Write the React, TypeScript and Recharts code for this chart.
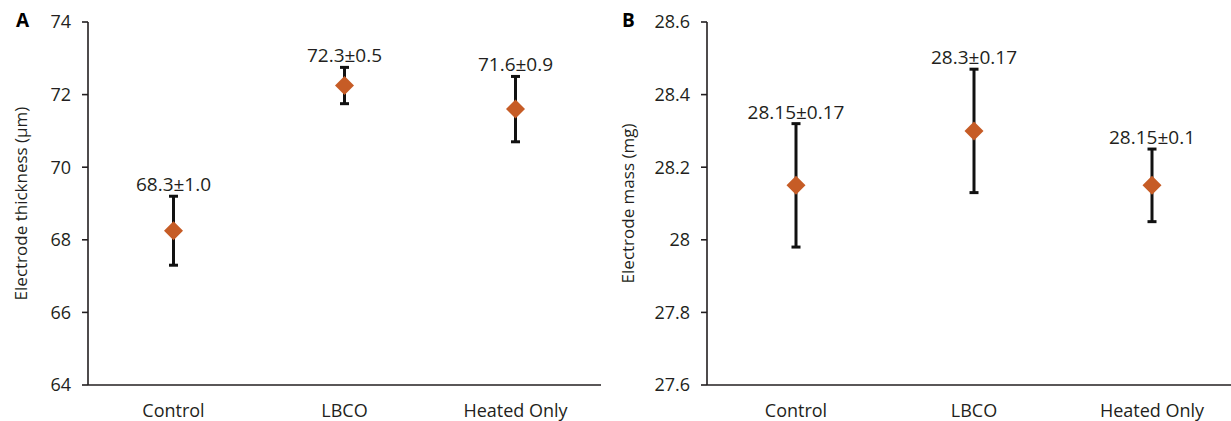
import React from 'react';
import { ComposedChart, Line, XAxis, YAxis, ErrorBar, LabelList } from 'recharts';

const categories = ['Control', 'LBCO', 'Heated Only'];

const thicknessMean = [68.25, 72.25, 71.6];
const thicknessErr = [0.95, 0.5, 0.9];
const thicknessLabels = ['68.3±1.0', '72.3±0.5', '71.6±0.9'];
const thicknessTicks = [64, 66, 68, 70, 72, 74];

const massMean = [28.15, 28.3, 28.15];
const massErr = [0.17, 0.17, 0.1];
const massLabels = ['28.15±0.17', '28.3±0.17', '28.15±0.1'];
const massTicks = [27.6, 27.8, 28, 28.2, 28.4, 28.6];

const ORANGE = '#C65C26';
const INK = '#231F20';
const FONT = '"Open Sans", "Noto Sans", sans-serif';

const buildRows = (means: number[], errs: number[], labels: string[]) =>
  categories.map((c, i) => ({
    cat: c,
    mean: means[i],
    err: errs[i],
    top: means[i] + errs[i],
    label: labels[i],
  }));

const Diamond = (props: any) => {
  const { cx, cy } = props;
  if (cx == null || cy == null) return null;
  const r = 9.5;
  return (
    <polygon
      points={`${cx},${cy - r} ${cx + r},${cy} ${cx},${cy + r} ${cx - r},${cy}`}
      fill={ORANGE}
    />
  );
};

type PanelProps = {
  rows: any[];
  ticks: number[];
  yTitle: string;
  width: number;
  yAxisWidth: number;
  rightMargin: number;
  titleX: number;
};

const Panel = ({ rows, ticks, yTitle, width, yAxisWidth, rightMargin, titleX }: PanelProps) => {
  const domain = [ticks[0], ticks[ticks.length - 1]];
  return (
    <ComposedChart
      width={width}
      height={421}
      data={rows}
      margin={{ top: 22, right: rightMargin, bottom: 0, left: 0 }}
    >
      <XAxis
        dataKey="cat"
        xAxisId="main"
        scale="band"
        height={36}
        tickLine={false}
        tickMargin={13}
        axisLine={{ stroke: INK, strokeWidth: 1.6 }}
        tick={{ fill: INK, fontSize: 18, fontFamily: FONT }}
        interval={0}
      />
      <XAxis
        dataKey="cat"
        xAxisId="top"
        scale="band"
        orientation="top"
        height={0}
        tick={false}
        tickLine={false}
        axisLine={{ stroke: INK, strokeWidth: 1.6 }}
      />
      <YAxis
        yAxisId="main"
        type="number"
        domain={domain}
        ticks={ticks}
        width={yAxisWidth}
        tickSize={6}
        tickMargin={11}
        tickLine={{ stroke: INK, strokeWidth: 1.6 }}
        axisLine={{ stroke: INK, strokeWidth: 1.6 }}
        tick={{ fill: INK, fontSize: 18, fontFamily: FONT }}
        label={{
          content: (p: any) => {
            const vb = p.viewBox || {};
            const x = (vb.x ?? 0) + titleX;
            const y = (vb.y ?? 0) + (vb.height ?? 0) / 2;
            return (
              <text
                x={x}
                y={y}
                transform={`rotate(-90 ${x} ${y})`}
                textAnchor="middle"
                dominantBaseline="central"
                fill={INK}
                fontSize={17}
                fontFamily={FONT}
              >
                {yTitle}
              </text>
            );
          },
        }}
      />
      <YAxis
        yAxisId="right"
        orientation="right"
        type="number"
        domain={domain}
        width={0}
        tick={false}
        tickLine={false}
        axisLine={{ stroke: INK, strokeWidth: 1.6 }}
      />
      <Line
        xAxisId="main"
        yAxisId="main"
        dataKey="top"
        stroke="none"
        dot={false}
        activeDot={false}
        isAnimationActive={false}
      >
        <LabelList
          dataKey="label"
          position="top"
          offset={5}
          fill={INK}
          fontSize={19}
          fontFamily={FONT}
        />
      </Line>
      <Line
        xAxisId="main"
        yAxisId="main"
        dataKey="mean"
        stroke="none"
        dot={<Diamond />}
        activeDot={false}
        isAnimationActive={false}
      >
        <ErrorBar dataKey="err" width={4.5} strokeWidth={3} stroke="#111" direction="y" />
      </Line>
    </ComposedChart>
  );
};

export default function App() {
  const rowsA = buildRows(thicknessMean, thicknessErr, thicknessLabels);
  const rowsB = buildRows(massMean, massErr, massLabels);
  const letter: React.CSSProperties = {
    position: 'absolute',
    top: 8,
    fontFamily: FONT,
    fontWeight: 700,
    fontSize: 19,
    color: '#000',
    lineHeight: '24px',
  };
  return (
    <div
      style={{
        position: 'fixed',
        left: 0,
        top: 0,
        width: 1231,
        height: 421,
        overflow: 'hidden',
        background: '#fff',
      }}
    >
      <div style={{ position: 'absolute', left: 0, top: 0 }}>
        <Panel
          rows={rowsA}
          ticks={thicknessTicks}
          yTitle="Electrode thickness (µm)"
          width={610}
          yAxisWidth={88}
          rightMargin={9}
          titleX={20}
        />
      </div>
      <div style={{ position: 'absolute', left: 600, top: 0 }}>
        <Panel
          rows={rowsB}
          ticks={massTicks}
          yTitle="Electrode mass (mg)"
          width={641}
          yAxisWidth={107}
          rightMargin={0}
          titleX={27}
        />
      </div>
      <div style={{ ...letter, left: 16 }}>A</div>
      <div style={{ ...letter, left: 622 }}>B</div>
    </div>
  );
}
